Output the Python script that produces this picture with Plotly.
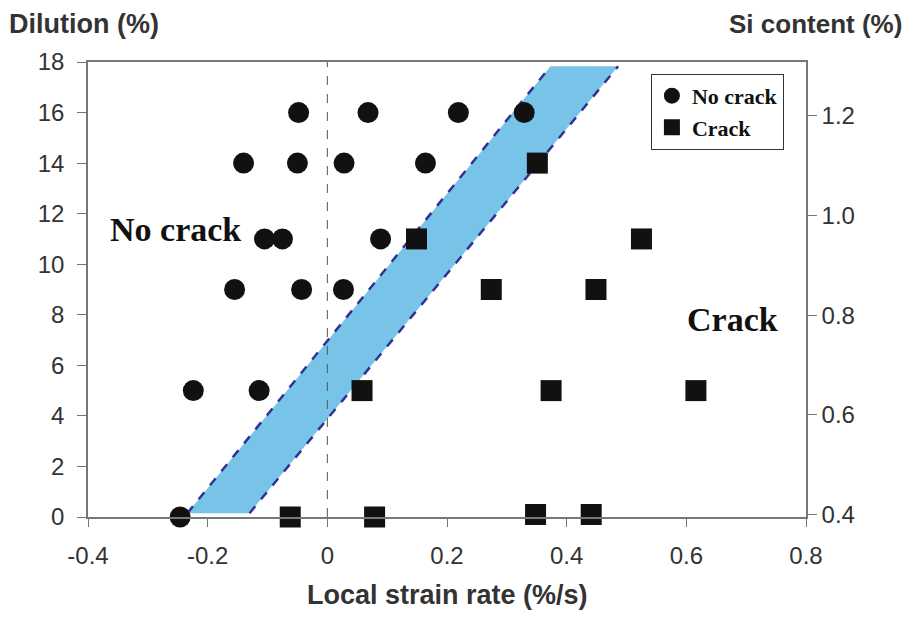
import plotly.graph_objects as go

# Data
nocrack_x = [-0.246, -0.224, -0.114, -0.155, -0.043, 0.027, -0.105, -0.075, 0.089,
             -0.14, -0.05, 0.028, 0.164, -0.048, 0.068, 0.219, 0.329]
nocrack_y = [0, 5, 5, 9, 9, 9, 11, 11, 11, 14, 14, 14, 14, 16, 16, 16, 16]
crack_x = [-0.062, 0.079, 0.348, 0.441, 0.058, 0.374, 0.616, 0.274, 0.449, 0.149, 0.525, 0.351]
crack_y = [0, 0, 0.1, 0.1, 5, 5, 5, 9, 9, 11, 11, 14]

band_left_x = [-0.234, 0.373]
band_left_y = [0.15, 17.83]
band_right_x = [-0.130, 0.486]
band_right_y = [0.15, 17.83]

xtick_vals = [-0.4, -0.2, 0, 0.2, 0.4, 0.6, 0.8]
xtick_text = ["-0.4", "-0.2", "0", "0.2", "0.4", "0.6", "0.8"]
ytick_vals = [0, 2, 4, 6, 8, 10, 12, 14, 16, 18]
y2tick_vals = [0.4, 0.6, 0.8, 1.0, 1.2]
y2tick_text = ["0.4", "0.6", "0.8", "1.0", "1.2"]

fig = go.Figure()

# band fill
fig.add_trace(go.Scatter(
    x=band_left_x + band_right_x[::-1],
    y=band_left_y + band_right_y[::-1],
    fill="toself", fillcolor="rgb(120,196,232)", mode="none",
    showlegend=False, hoverinfo="skip"))
for bx, by in [(band_left_x, band_left_y), (band_right_x, band_right_y)]:
    fig.add_trace(go.Scatter(x=bx, y=by, mode="lines",
                             line=dict(color="rgb(50,50,150)", width=2.5, dash="dash"),
                             showlegend=False, hoverinfo="skip"))

# vertical dashed line at x=0
fig.add_trace(go.Scatter(x=[0, 0], y=[0, 18], mode="lines",
                         line=dict(color="#555", width=1, dash="dash"),
                         showlegend=False, hoverinfo="skip"))

fig.add_trace(go.Scatter(x=nocrack_x, y=nocrack_y, mode="markers", name="No crack",
                         cliponaxis=False,
                         marker=dict(symbol="circle", size=21, color="#111")))
fig.add_trace(go.Scatter(x=crack_x, y=crack_y, mode="markers", name="Crack",
                         cliponaxis=False,
                         marker=dict(symbol="square", size=21, color="#111")))

# invisible trace for secondary axis
fig.add_trace(go.Scatter(x=[0.8], y=[0.4], yaxis="y2", mode="markers",
                         marker=dict(opacity=0), showlegend=False, hoverinfo="skip"))

sans = "Liberation Sans, Arial"
serif = "Liberation Serif, Times New Roman"
tickfont = dict(family=sans, size=24, color="#333")
fig.update_layout(
    width=897, height=605,
    margin=dict(l=80, r=99, t=54, b=96, autoexpand=False),
    paper_bgcolor="white", plot_bgcolor="white",
    showlegend=True,
    legend=dict(x=0.784, y=0.974, xanchor="left", yanchor="top",
                bordercolor="#333", borderwidth=1, bgcolor="white",
                font=dict(family=serif, size=22, color="#111", weight="bold"),
                itemsizing="trace", tracegroupgap=0, itemwidth=30),
    xaxis=dict(range=[-0.4, 0.8], tickvals=xtick_vals, ticktext=xtick_text,
               showgrid=False, zeroline=False, showline=True, linecolor="#777", linewidth=1.5,
               mirror=True, ticks="outside", ticklen=8, tickcolor="#777", tickfont=tickfont,
               ticklabelstandoff=8, automargin=False),
    yaxis=dict(range=[0, 18], tickvals=ytick_vals, showgrid=False, zeroline=False,
               showline=True, linecolor="#777", linewidth=1.5, ticks="outside", ticklen=9,
               tickcolor="#777", tickfont=tickfont, ticklabelstandoff=8, automargin=False),
    yaxis2=dict(range=[0.395, 1.308], tickvals=y2tick_vals, ticktext=y2tick_text,
                overlaying="y", side="right", showgrid=False, zeroline=False,
                showline=True, linecolor="#777", linewidth=1.5, ticks="outside", ticklen=9,
                tickcolor="#777", tickfont=tickfont, automargin=False),
    annotations=[
        dict(text="<b>Dilution (%)</b>", xref="paper", yref="paper", x=-0.113, y=1.046,
             xanchor="left", yanchor="bottom", showarrow=False,
             font=dict(family=sans, size=27, color="#333")),
        dict(text="<b>Si content (%)</b>", xref="paper", yref="paper", x=1.136, y=1.046,
             xanchor="right", yanchor="bottom", showarrow=False,
             font=dict(family=sans, size=26, color="#333")),
        dict(text="<b>Local strain rate (%/s)</b>", xref="paper", yref="paper", x=0.5, y=-0.209,
             xanchor="center", yanchor="bottom", showarrow=False,
             font=dict(family=sans, size=27, color="#333")),
        dict(text="<b>No crack</b>", xref="paper", yref="paper", x=0.028, y=0.631,
             xanchor="left", yanchor="middle", showarrow=False,
             font=dict(family=serif, size=34, color="#111")),
        dict(text="<b>Crack</b>", xref="paper", yref="paper", x=0.831, y=0.433,
             xanchor="left", yanchor="middle", showarrow=False,
             font=dict(family=serif, size=34, color="#111")),
    ],
)

fig.write_html("out.html")
